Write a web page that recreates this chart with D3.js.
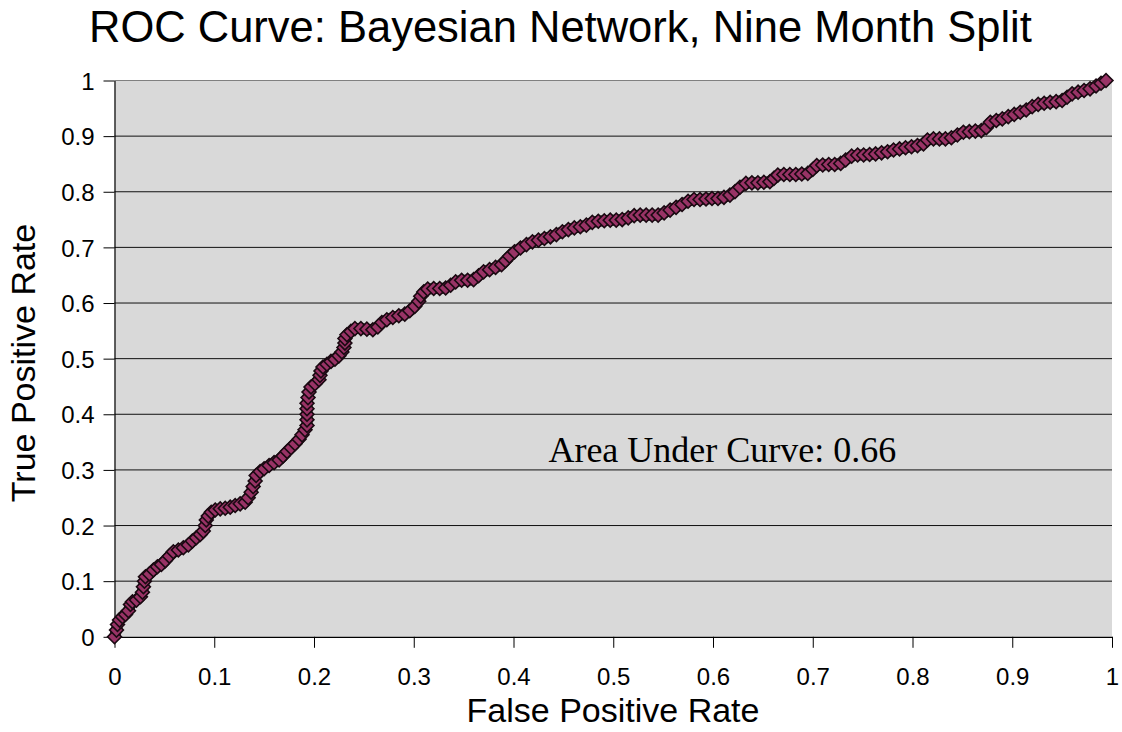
<!DOCTYPE html>
<html>
<head>
<meta charset="utf-8">
<script src="https://cdn.jsdelivr.net/npm/d3@7"></script>
<style>
  body { margin: 0; background: #fff; }
  text { font-family: "Liberation Sans", Arial, sans-serif; fill: #000; }
</style>
</head>
<body>
<svg id="chart"></svg>
<script>
// Data
const fprValues = [
  0, 0.002, 0.003, 0.005, 0.008, 0.011, 0.014, 0.016, 0.018, 0.022, 0.026, 0.028, 0.029, 0.030, 0.031,
  0.035, 0.039, 0.043, 0.047, 0.051, 0.055, 0.059, 0.064, 0.069, 0.074, 0.078, 0.082, 0.086, 0.089, 0.091,
  0.092, 0.094, 0.097, 0.101, 0.106, 0.111, 0.116, 0.121, 0.126, 0.131, 0.134, 0.137, 0.139, 0.141, 0.142,
  0.146, 0.150, 0.155, 0.160, 0.165, 0.169, 0.173, 0.177, 0.181, 0.185, 0.188, 0.191, 0.193, 0.193, 0.193,
  0.193, 0.193, 0.194, 0.195, 0.197, 0.201, 0.205, 0.206, 0.207, 0.209, 0.213, 0.217, 0.221, 0.225, 0.228,
  0.230, 0.231, 0.231, 0.233, 0.237, 0.241, 0.247, 0.253, 0.259, 0.264, 0.268, 0.273, 0.279, 0.285, 0.291,
  0.296, 0.301, 0.305, 0.307, 0.310, 0.314, 0.320, 0.326, 0.332, 0.337, 0.342, 0.348, 0.354, 0.360, 0.365,
  0.370, 0.376, 0.382, 0.388, 0.392, 0.396, 0.401, 0.407, 0.413, 0.419, 0.425, 0.431, 0.437, 0.443, 0.449,
  0.455, 0.461, 0.467, 0.473, 0.479, 0.485, 0.491, 0.497, 0.503, 0.509, 0.515, 0.521, 0.527, 0.533, 0.539,
  0.545, 0.551, 0.557, 0.563, 0.569, 0.575, 0.581, 0.587, 0.593, 0.599, 0.605, 0.611, 0.617, 0.622, 0.627,
  0.633, 0.639, 0.645, 0.651, 0.657, 0.661, 0.665, 0.671, 0.677, 0.683, 0.689, 0.695, 0.700, 0.704, 0.710,
  0.716, 0.722, 0.728, 0.733, 0.739, 0.745, 0.751, 0.757, 0.763, 0.769, 0.775, 0.781, 0.787, 0.793, 0.799,
  0.805, 0.811, 0.815, 0.821, 0.827, 0.833, 0.839, 0.845, 0.851, 0.857, 0.863, 0.869, 0.874, 0.878, 0.884,
  0.890, 0.896, 0.902, 0.908, 0.914, 0.920, 0.926, 0.932, 0.938, 0.944, 0.950, 0.955, 0.960, 0.966, 0.972,
  0.978, 0.984, 0.989, 0.994
];
const tprValues = [
  0, 0.012, 0.022, 0.030, 0.036, 0.040, 0.047, 0.058, 0.063, 0.066, 0.072, 0.080, 0.090, 0.100, 0.108,
  0.113, 0.120, 0.126, 0.130, 0.137, 0.145, 0.153, 0.156, 0.160, 0.165, 0.172, 0.178, 0.184, 0.190, 0.200,
  0.210, 0.217, 0.224, 0.228, 0.230, 0.231, 0.233, 0.236, 0.239, 0.242, 0.250, 0.260, 0.270, 0.280, 0.290,
  0.297, 0.302, 0.308, 0.313, 0.318, 0.325, 0.333, 0.340, 0.347, 0.355, 0.363, 0.372, 0.380, 0.390, 0.400,
  0.410, 0.420, 0.430, 0.440, 0.449, 0.455, 0.462, 0.470, 0.478, 0.485, 0.490, 0.495, 0.499, 0.505, 0.512,
  0.520, 0.528, 0.536, 0.543, 0.549, 0.554, 0.554, 0.553, 0.552, 0.557, 0.565, 0.570, 0.574, 0.577, 0.580,
  0.586, 0.594, 0.603, 0.612, 0.620, 0.625, 0.626, 0.626, 0.627, 0.632, 0.638, 0.641, 0.641, 0.642, 0.649,
  0.656, 0.660, 0.664, 0.669, 0.676, 0.684, 0.692, 0.699, 0.705, 0.710, 0.713, 0.716, 0.719, 0.723, 0.728,
  0.732, 0.735, 0.737, 0.740, 0.745, 0.747, 0.748, 0.749, 0.749, 0.750, 0.753, 0.757, 0.758, 0.758, 0.758,
  0.758, 0.762, 0.767, 0.772, 0.777, 0.783, 0.786, 0.786, 0.787, 0.788, 0.788, 0.790, 0.794, 0.800, 0.808,
  0.815, 0.816, 0.816, 0.817, 0.818, 0.824, 0.830, 0.831, 0.831, 0.831, 0.832, 0.833, 0.840, 0.847, 0.848,
  0.849, 0.849, 0.851, 0.857, 0.864, 0.866, 0.866, 0.867, 0.868, 0.870, 0.872, 0.875, 0.877, 0.879, 0.881,
  0.883, 0.886, 0.893, 0.895, 0.895, 0.895, 0.897, 0.902, 0.907, 0.908, 0.909, 0.910, 0.915, 0.925, 0.928,
  0.931, 0.935, 0.939, 0.943, 0.947, 0.953, 0.957, 0.959, 0.961, 0.962, 0.964, 0.970, 0.976, 0.979, 0.982,
  0.985, 0.990, 0.995, 1.000
];
const tickValues = [0, 0.1, 0.2, 0.3, 0.4, 0.5, 0.6, 0.7, 0.8, 0.9, 1];
const titleText = "ROC Curve: Bayesian Network, Nine Month Split";
const xLabel = "False Positive Rate";
const yLabel = "True Positive Rate";
const aucText = "Area Under Curve: 0.66";
const aucPos = [0.435, 0.314];

const width = 1122;
const height = 732;
const plot = { left: 114.5, right: 1112, top: 80.5, bottom: 636.8 };

const points = fprValues.map((x, i) => ({ x: x, y: tprValues[i] }));

const svg = d3.select("#chart")
    .attr("width", width)
    .attr("height", height);

const xScale = d3.scaleLinear().domain([0, 1]).range([plot.left, plot.right]);
const yScale = d3.scaleLinear().domain([0, 1]).range([plot.bottom, plot.top]);

// plot area
svg.append("rect")
    .attr("x", plot.left)
    .attr("y", plot.top)
    .attr("width", plot.right - plot.left)
    .attr("height", plot.bottom - plot.top)
    .attr("fill", "#d9d9d9");

// gridlines
svg.append("g")
    .selectAll("line")
    .data(tickValues.slice(1))
    .enter()
    .append("line")
    .attr("x1", plot.left)
    .attr("x2", plot.right)
    .attr("y1", d => yScale(d))
    .attr("y2", d => yScale(d))
    .attr("stroke", d => d === 1 ? "#808080" : "#111")
    .attr("stroke-width", 1);

// axes
const xAxis = d3.axisBottom(xScale)
    .tickValues(tickValues)
    .tickFormat(d3.format("~g"))
    .tickSizeInner(11)
    .tickSizeOuter(0)
    .tickPadding(20);
const yAxis = d3.axisLeft(yScale)
    .tickValues(tickValues)
    .tickFormat(d3.format("~g"))
    .tickSizeInner(11)
    .tickSizeOuter(0)
    .tickPadding(9);

const gx = svg.append("g")
    .attr("transform", `translate(0, ${plot.bottom})`)
    .call(xAxis);
const gy = svg.append("g")
    .attr("transform", `translate(${plot.left}, 0)`)
    .call(yAxis);

[gx, gy].forEach(g => {
    g.attr("font-size", 24).attr("font-family", "Liberation Sans, Arial, sans-serif");
    g.select(".domain").attr("stroke", "#000").attr("stroke-width", 1.2);
    g.selectAll(".tick line").attr("stroke", "#000");
    g.selectAll(".tick text").attr("fill", "#000");
});
gy.selectAll(".tick text").attr("dy", "0.36em");

// dark band under the markers, as the overlapping outlines give in the picture
svg.append("path")
    .datum(points)
    .attr("fill", "none")
    .attr("stroke", "#26101b")
    .attr("stroke-width", 11)
    .attr("stroke-linejoin", "round")
    .attr("d", d3.line().x(d => xScale(d.x)).y(d => yScale(d.y)));

// markers
const diamond = d3.symbol().type(d3.symbolSquare).size(96);
svg.append("g")
    .selectAll(".dot")
    .data(points)
    .enter()
    .append("path")
    .attr("class", "dot")
    .attr("d", diamond)
    .attr("transform", d => `translate(${xScale(d.x)}, ${yScale(d.y)}) rotate(45)`)
    .attr("fill", "#993366")
    .attr("stroke", "#1a0a12")
    .attr("stroke-width", 1.6);

// annotation
svg.append("text")
    .attr("x", xScale(aucPos[0]))
    .attr("y", yScale(aucPos[1]))
    .attr("font-size", 36)
    .style("font-family", "'Liberation Serif', 'Times New Roman', serif")
    .text(aucText);

// title and labels
svg.append("text")
    .attr("x", 89)
    .attr("y", 42)
    .attr("font-size", 43.5)
    .text(titleText);

svg.append("text")
    .attr("x", (467 + 759) / 2)
    .attr("y", 722)
    .attr("text-anchor", "middle")
    .attr("font-size", 34)
    .text(xLabel);

svg.append("text")
    .attr("transform", "translate(35, 363) rotate(-90)")
    .attr("text-anchor", "middle")
    .attr("font-size", 34)
    .text(yLabel);
</script>
</body>
</html>
